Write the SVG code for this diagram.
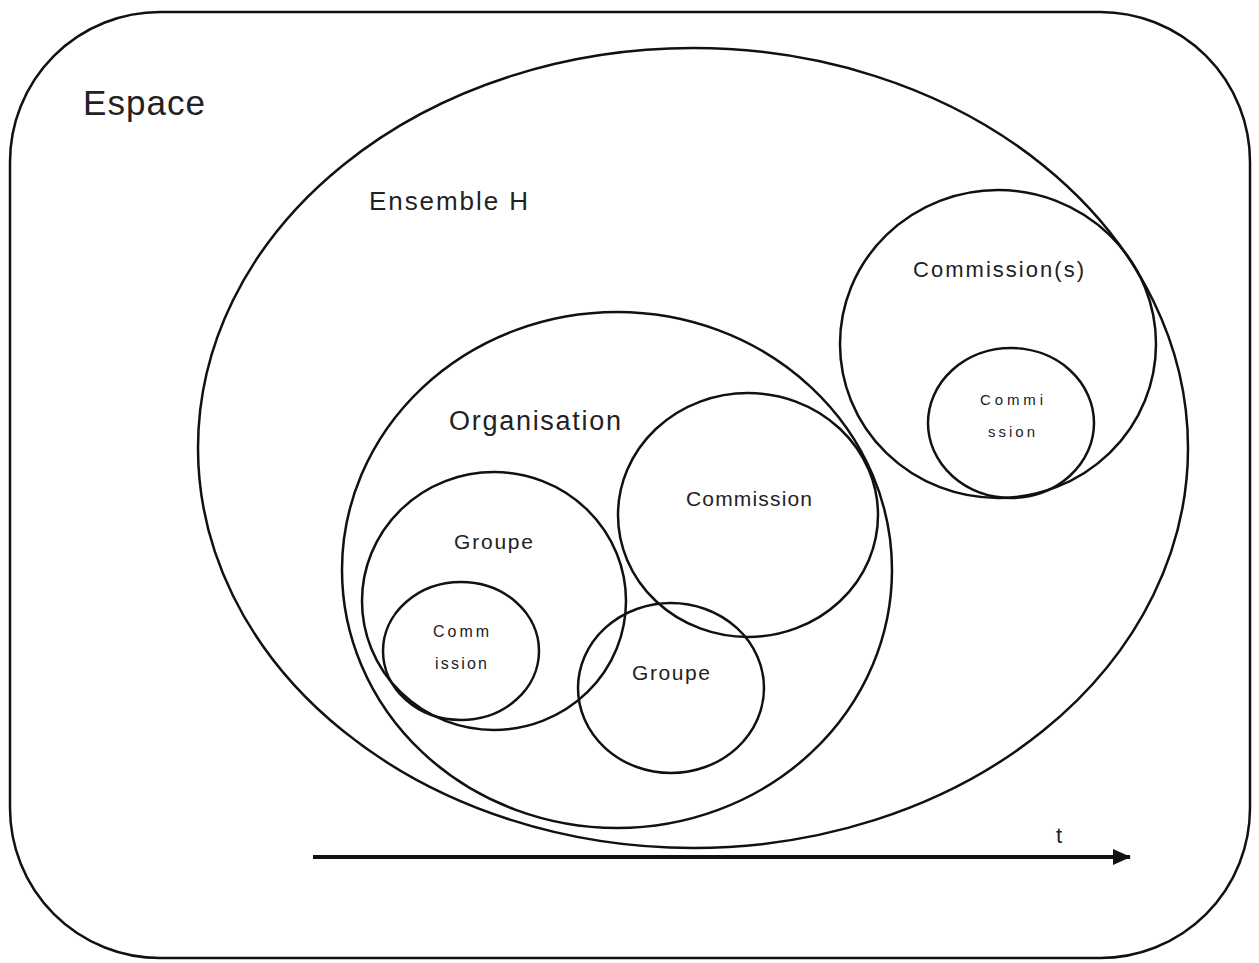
<svg xmlns="http://www.w3.org/2000/svg" width="1259" height="963" viewBox="0 0 1259 963">
<defs>
<style>
.s{fill:none;stroke:#111;stroke-width:2.5}
.t{font-family:"Liberation Sans","Open Sans",sans-serif;fill:#222}
</style>
<marker id="ah2" markerWidth="18" markerHeight="16" refX="17" refY="8" orient="auto" markerUnits="userSpaceOnUse">
<path d="M0,0 L18,8 L0,16 z" fill="#111"/>
</marker>
</defs>
<rect width="1259" height="963" fill="#fff"/>
<g id="espace">
<rect class="s" x="10" y="12" width="1240" height="946" rx="150" ry="150"/>
<text class="t" x="83" y="115" font-size="35" textLength="122" lengthAdjust="spacing">Espace</text>
</g>
<g id="ensembleH">
<ellipse class="s" cx="693" cy="448" rx="495" ry="400"/>
<text class="t" x="369" y="210" font-size="26" textLength="159" lengthAdjust="spacing">Ensemble H</text>
</g>
<g id="commissions">
<ellipse class="s" cx="998" cy="344" rx="158" ry="154"/>
<text class="t" x="913" y="277" font-size="22" textLength="171" lengthAdjust="spacing">Commission(s)</text>
</g>
<g id="commission-right">
<ellipse class="s" cx="1011" cy="423" rx="83" ry="75"/>
<text class="t" x="980" y="405" font-size="15" textLength="63" lengthAdjust="spacing">Commi</text>
<text class="t" x="988" y="437" font-size="15" textLength="47" lengthAdjust="spacing">ssion</text>
</g>
<g id="organisation">
<ellipse class="s" cx="617" cy="570" rx="275" ry="258"/>
<text class="t" x="449" y="430" font-size="27" textLength="172" lengthAdjust="spacing">Organisation</text>
</g>
<g id="commission-center">
<ellipse class="s" cx="748" cy="515" rx="130" ry="122"/>
<text class="t" x="686" y="506" font-size="21" textLength="126" lengthAdjust="spacing">Commission</text>
</g>
<g id="groupe-left">
<ellipse class="s" cx="494" cy="601" rx="132" ry="129"/>
<text class="t" x="454" y="549" font-size="21" textLength="79" lengthAdjust="spacing">Groupe</text>
</g>
<g id="commission-left">
<ellipse class="s" cx="461" cy="651" rx="78" ry="69"/>
<text class="t" x="433" y="637" font-size="16" textLength="56" lengthAdjust="spacing">Comm</text>
<text class="t" x="435" y="669" font-size="16" textLength="52" lengthAdjust="spacing">ission</text>
</g>
<g id="groupe-bottom">
<ellipse class="s" cx="671" cy="688" rx="93" ry="85"/>
<text class="t" x="632" y="680" font-size="21" textLength="78" lengthAdjust="spacing">Groupe</text>
</g>
<g id="connectors">
<line x1="313" y1="857" x2="1130" y2="857" stroke="#111" stroke-width="4" marker-end="url(#ah2)"/>
<text class="t" x="1056" y="843" font-size="22">t</text>
</g>
</svg>
